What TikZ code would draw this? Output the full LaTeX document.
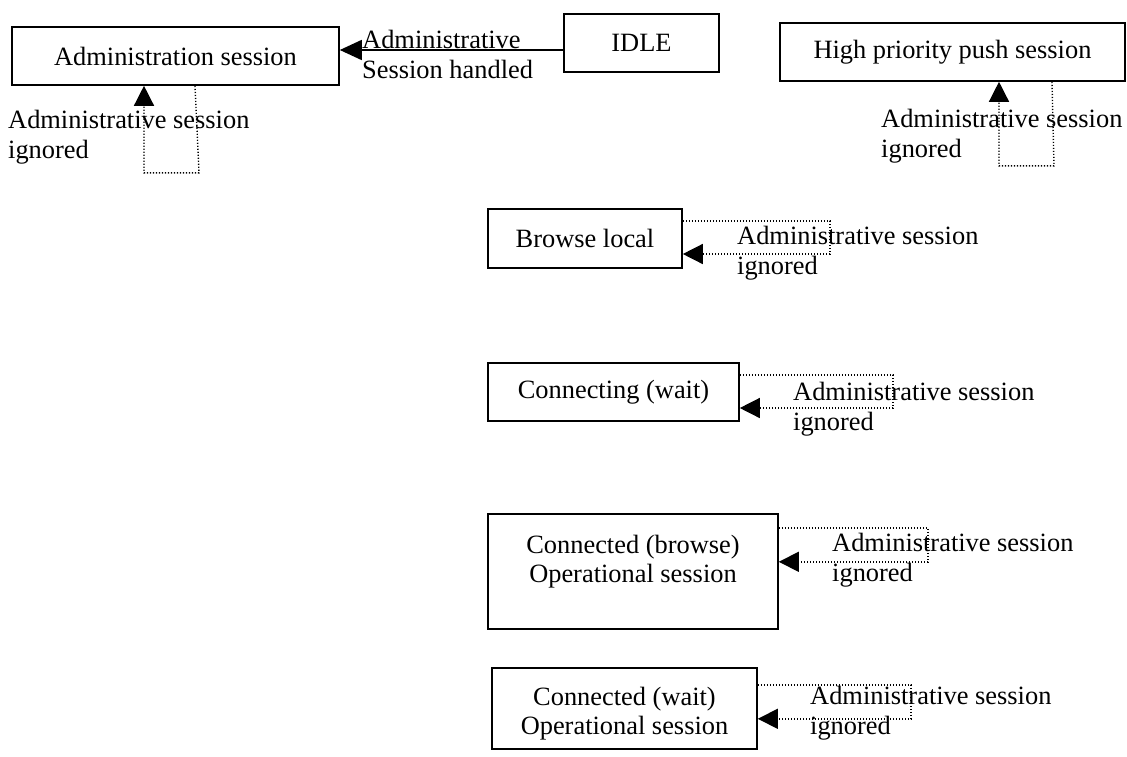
\documentclass[tikz,border=0pt]{standalone}
\usepackage{fontspec}
\setmainfont{Liberation Serif}
\usetikzlibrary{positioning, arrows.meta}
\newcommand{\diagfont}{\fontsize{26.4}{29.5}\selectfont}
\tikzset{
  state/.style={draw, line width=1.6pt, inner sep=0pt, align=center, font=\diagfont},
  note/.style={inner sep=0pt, align=left, anchor=base west, font=\diagfont},
  arr/.style={-{Triangle[length=22pt, width=20pt]}, line width=1.6pt},
  selfloop/.style={-{Triangle[length=20pt, width=20pt]}, line width=1.4pt, dash pattern=on 1.2pt off 1.8pt}
}
\begin{document}
\begin{tikzpicture}[x=1pt, y=-1pt]
\useasboundingbox (0,0) rectangle (1127,756);
\node[state, minimum width=327pt, minimum height=58pt] (admin) at (175.5,56) {Administration session};
\node[state, minimum width=155pt, minimum height=58pt] (idle) at (641.5,43) {IDLE};
\node[state, minimum width=345pt, minimum height=58pt] (push) at (952.5,52) {High priority push session};
\node[state, minimum width=194pt, minimum height=59pt] (browse) at (585,238.5) {Browse local};
\node[state, minimum width=251pt, minimum height=58pt] (conn) at (613.5,392) {Connecting (wait)};
\node[state, anchor=north, minimum width=290pt, text height=59pt, text depth=36pt, inner ysep=10pt] (cbrowse) at (633,513) {Connected (browse)\\Operational session};
\node[state, anchor=north, minimum width=265pt, text height=57pt, text depth=4pt, inner ysep=10pt] (cwait) at (624.5,667) {Connected (wait)\\Operational session};
% labels
\node[note] (lblidle) at (362,78) {Administrative\\Session handled};
\node[note] (lbladmin) at (8,158) {Administrative session\\ignored};
\node[note] (lblpush) at (881,157) {Administrative session\\ignored};
\node[note] (lblbrowse) at (737,274) {Administrative session\\ignored};
\node[note] (lblconn) at (793,430) {Administrative session\\ignored};
\node[note] (lblcbrowse) at (832,581) {Administrative session\\ignored};
\node[note] (lblcwait) at (810,734) {Administrative session\\ignored};
% transitions
\draw[arr] ([yshift=-7pt]idle.west) -- ([yshift=-7pt]idle.west -| admin.east);
\draw[selfloop] ([xshift=19.5pt]admin.south) -- ++(4,87) -| ([xshift=-31.5pt]admin.south);
\draw[selfloop] ([xshift=99.5pt]push.south) -- ++(2,84) -| ([xshift=46.5pt]push.south);
\draw[selfloop] ([yshift=17.5pt]browse.east) -- ++(147,0) |- ([yshift=-15.5pt]browse.east);
\draw[selfloop] ([yshift=17pt]conn.east) -- ++(153,0) |- ([yshift=-16pt]conn.east);
\draw[selfloop] ([yshift=43.5pt]cbrowse.east) -- ++(149,0) |- ([yshift=9.5pt]cbrowse.east);
\draw[selfloop] ([yshift=23.5pt]cwait.east) -- ++(153,0) |- ([yshift=-10.5pt]cwait.east);
\end{tikzpicture}
\end{document}
